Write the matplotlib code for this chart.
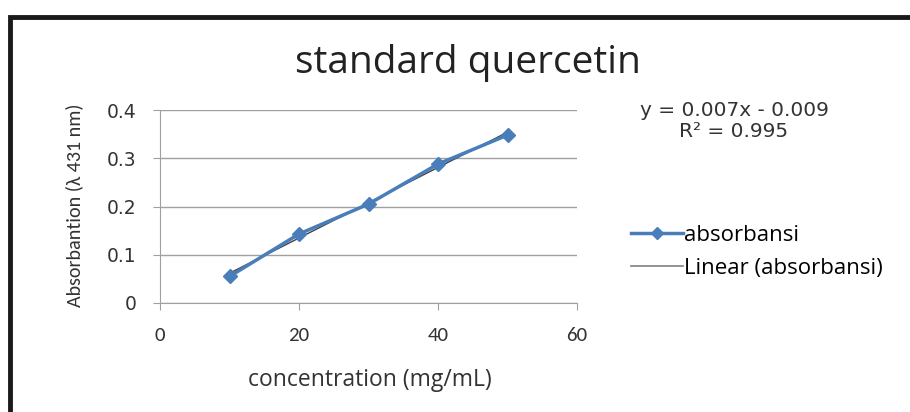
import numpy as np
import matplotlib
matplotlib.use('Agg')
import matplotlib.pyplot as plt
from matplotlib.lines import Line2D
from matplotlib.patches import Rectangle

# data
conc = [10, 20, 30, 40, 50]
absorb = [0.055, 0.143, 0.205, 0.288, 0.348]
xticks = [0, 20, 40, 60]
yticks = [0, 0.1, 0.2, 0.3, 0.4]
ytick_labels = ['0', '0.1', '0.2', '0.3', '0.4']
eq_text = 'y = 0.007x - 0.009\nR² = 0.995'

narrow = ['Carlito', 'DejaVu Sans']
wide = ['Open Sans', 'DejaVu Sans']
wider = ['DejaVu Sans']

fig = plt.figure(figsize=(9.1, 4.12), dpi=100)
fig.patches.append(Rectangle((10/910, -0.1), 1.2, 1 - 17/412 + 0.1,
                             transform=fig.transFigure, fill=False,
                             edgecolor='#1a1a1a', linewidth=3.5))

ax = fig.add_axes([160/910, 1 - 303/412, (577-160)/910, (303-110)/412])

# linear trendline from the data
k, b = np.polyfit(conc, absorb, 1)
xs = np.array([conc[0], conc[-1]])
ax.plot(xs, k*xs + b, color='#404040', linewidth=1.0, zorder=2)
ax.plot(conc, absorb, color='#4a7ebb', linewidth=2.5, marker='D',
        markersize=7, zorder=3)

ax.set_xlim(0, 60)
ax.set_ylim(0, 0.4)
ax.set_xticks(xticks)
ax.set_yticks(yticks)
ax.set_yticklabels(ytick_labels)
ax.grid(axis='y', color='#a0a0a0', linewidth=1)
ax.set_axisbelow(True)
for s in ['top', 'right']:
    ax.spines[s].set_visible(False)
for s in ['left', 'bottom']:
    ax.spines[s].set_color('#a0a0a0')
ax.tick_params(axis='x', direction='out', length=5, color='#a0a0a0', pad=12)
ax.tick_params(axis='y', direction='out', length=5, color='#a0a0a0', pad=12)
for lab in ax.get_xticklabels():
    lab.set_fontfamily(narrow)
    lab.set_fontsize(15)
    lab.set_color('#333333')
for lab in ax.get_yticklabels():
    lab.set_fontfamily(wider)
    lab.set_fontsize(13.5)
    lab.set_color('#333333')

fig.text(468/910, 1 - 63/412, 'standard quercetin', ha='center', va='center',
         fontsize=28, family=wide, color='#222222')
fig.text(74/910, 1 - 205/412, 'Absorbantion (λ 431 nm)', rotation=90,
         ha='center', va='center', fontsize=14.5, family=narrow, color='#333333')
fig.text(370/910, 1 - 380/412, 'concentration (mg/mL)', ha='center',
         va='center', fontsize=16.5, family=wide, color='#333333')
fig.text(734/910, 1 - 121/412, eq_text, ha='center', va='center',
         fontsize=14.5, family=wider, color='#333333', linespacing=1.15)

handles = [Line2D([], [], color='#4a7ebb', linewidth=2.5, marker='D', markersize=6),
           Line2D([], [], color='#808080', linewidth=1.2)]
fig.legend(handles, ['absorbansi', 'Linear (absorbansi)'],
           loc='center left', bbox_to_anchor=(611/910, 1 - 252/412),
           frameon=False, handlelength=2.35, handletextpad=0.05,
           labelspacing=0.55, prop={'family': wide, 'size': 16})

fig.savefig('out.png', dpi=100)
